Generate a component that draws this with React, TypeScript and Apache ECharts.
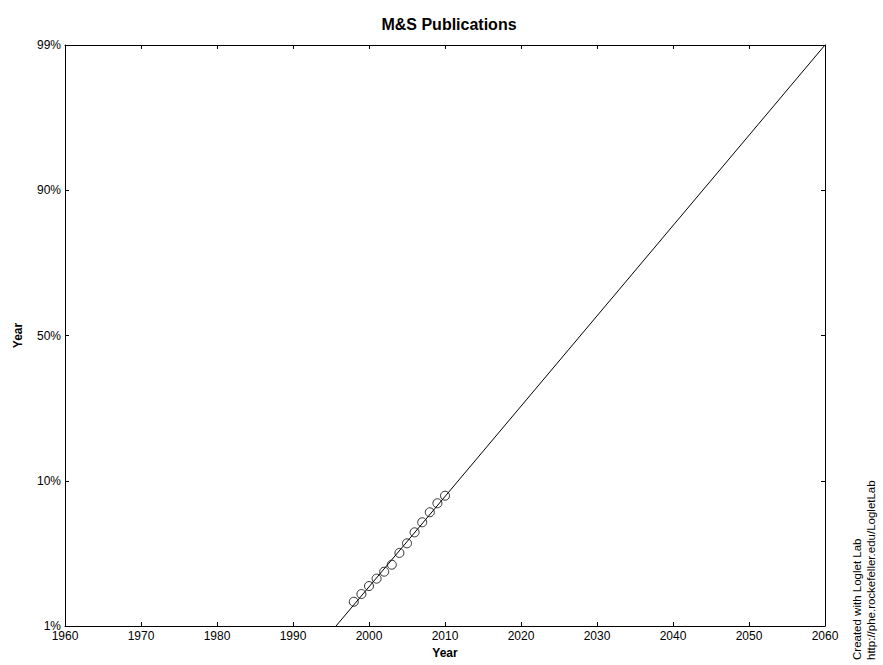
import React, { useEffect, useRef } from "react";
import * as echarts from "echarts";

const years = [1998, 1999, 2000, 2001, 2002, 2003, 2004, 2005, 2006, 2007, 2008, 2009, 2010];
// Fisher-Pry transformed values: log10(F / (1 - F))
const observed = [-1.833, -1.78, -1.725, -1.674, -1.626, -1.578, -1.497, -1.431, -1.355, -1.286, -1.217, -1.155, -1.103];
const fitYears = [1995.66, 2060];
const fitValues = [-2, 2];
const yTickValues = [-2, -1, 0, 1, 2];
const yTickLabels = ["1%", "10%", "50%", "90%", "99%"];

export default function App() {
  const ref = useRef<HTMLDivElement>(null);
  useEffect(() => {
    if (!ref.current) return;
    const chart = echarts.init(ref.current, null, { renderer: "svg" });
    const font = "Arial, 'Liberation Sans', sans-serif";
    const axisLine = { show: true, onZero: false, lineStyle: { color: "#000", width: 1 } };
    const tick = { show: true, inside: true, length: 4, lineStyle: { color: "#000" } };
    const labelFor = (v: number) => {
      const i = yTickValues.indexOf(Math.round(v));
      return i >= 0 ? yTickLabels[i] : "";
    };
    chart.setOption({
      animation: false,
      backgroundColor: "#fff",
      textStyle: { fontFamily: font },
      title: {
        text: "M&S Publications",
        left: 444,
        textAlign: "center",
        top: 11,
        textStyle: { fontSize: 16, fontWeight: "bold", color: "#000", fontFamily: font },
      },
      grid: { left: 65, top: 45, right: 58, bottom: 39, containLabel: false },
      xAxis: [
        {
          type: "value",
          min: 1960,
          max: 2060,
          interval: 10,
          position: "bottom",
          name: "Year",
          nameLocation: "middle",
          nameGap: 20,
          nameTextStyle: { fontSize: 12, fontWeight: "bold", color: "#000", fontFamily: font },
          axisLine,
          axisTick: tick,
          axisLabel: { color: "#000", fontSize: 12, margin: 4, fontFamily: font, formatter: (v: number) => String(v) },
          splitLine: { show: false },
        },
        {
          type: "value",
          min: 1960,
          max: 2060,
          interval: 10,
          position: "top",
          axisLine,
          axisTick: tick,
          axisLabel: { show: false },
          splitLine: { show: false },
        },
      ],
      yAxis: [
        {
          type: "value",
          min: -2,
          max: 2,
          interval: 1,
          position: "left",
          name: "Year",
          nameLocation: "middle",
          nameGap: 41,
          nameRotate: 90,
          nameTextStyle: { fontSize: 12, fontWeight: "bold", color: "#000", fontFamily: font },
          axisLine,
          axisTick: tick,
          axisLabel: { color: "#000", fontSize: 12, margin: 4, fontFamily: font, formatter: labelFor },
          splitLine: { show: false },
        },
        {
          type: "value",
          min: -2,
          max: 2,
          interval: 1,
          position: "right",
          axisLine,
          axisTick: tick,
          axisLabel: { show: false },
          splitLine: { show: false },
        },
      ],
      series: [
        {
          type: "line",
          data: fitYears.map((y, i) => [y, fitValues[i]]),
          symbol: "none",
          lineStyle: { color: "#000", width: 1 },
          silent: true,
        },
        {
          type: "scatter",
          data: years.map((y, i) => [y, observed[i]]),
          symbol: "circle",
          symbolSize: 9,
          itemStyle: { color: "rgba(0,0,0,0)", borderColor: "#000", borderWidth: 1 },
        },
      ],
      graphic: [
        {
          type: "text",
          x: 857,
          y: 660,
          rotation: Math.PI / 2,
          style: {
            text: "Created with Loglet Lab",
            fontSize: 11.5,
            fill: "#000",
            textAlign: "left",
            textVerticalAlign: "middle",
            fontFamily: font,
          },
        },
        {
          type: "text",
          x: 871,
          y: 660,
          rotation: Math.PI / 2,
          style: {
            text: "http://phe.rockefeller.edu/LogletLab",
            fontSize: 11.5,
            fill: "#000",
            textAlign: "left",
            textVerticalAlign: "middle",
            fontFamily: font,
          },
        },
      ],
    });
    return () => chart.dispose();
  }, []);
  return <div ref={ref} style={{ width: 883, height: 665, position: "absolute", left: 0, top: 0 }} />;
}
